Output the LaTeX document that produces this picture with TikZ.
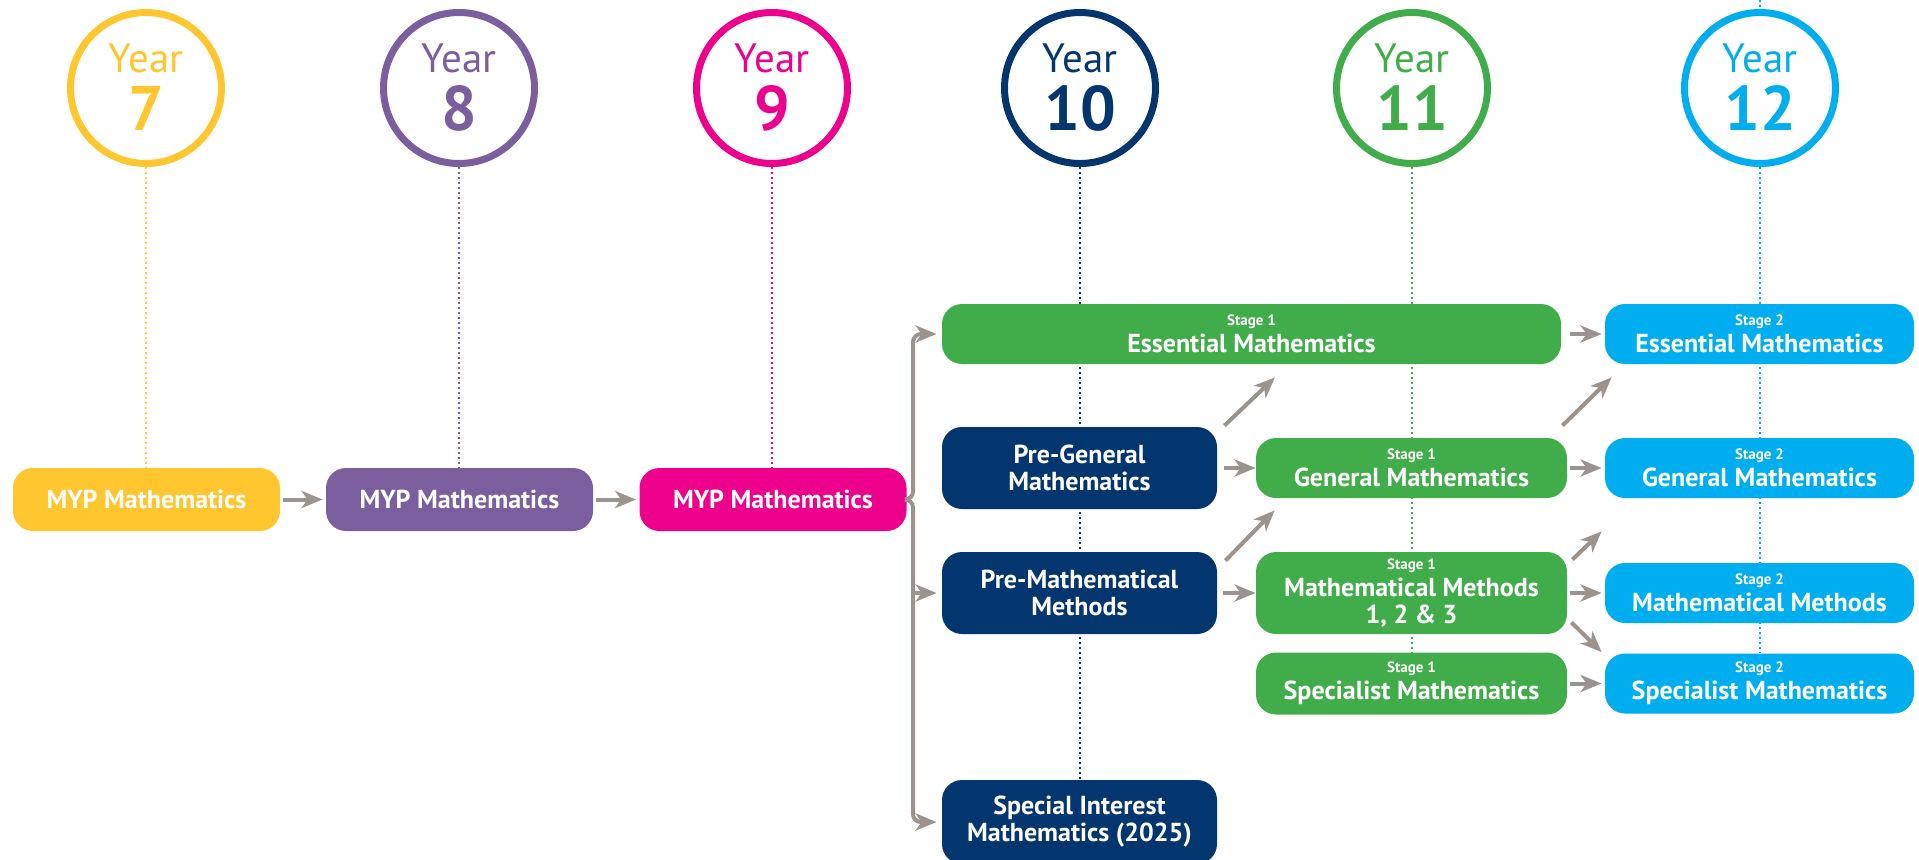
\documentclass[tikz,border=0pt]{standalone}
\usepackage{fontspec}
\setmainfont{PT Sans}
\usetikzlibrary{arrows.meta,backgrounds}

\definecolor{ysev}{HTML}{FFC630}
\definecolor{yeig}{HTML}{7B5E9E}
\definecolor{ynin}{HTML}{EC008C}
\definecolor{yten}{HTML}{03356F}
\definecolor{yele}{HTML}{41AD4A}
\definecolor{ytwe}{HTML}{00AEEF}
\definecolor{arrowgrey}{HTML}{9C938D}

\newcommand{\stg}[1]{{\fontsize{7.5}{8}\selectfont Stage~#1}}
\newcommand{\yearring}[4]{%
  \node[ring, draw=#3] (#1) at (#2,88) {};
  \node[yrword, text=#3] (#1w) at ([yshift=8pt]#1.center) {Year};
  \node[yrnum, text=#3] (#1n) at ([yshift=-21pt]#1.center) {#4};}

\tikzset{
  ring/.style={circle, line width=3.5pt, minimum size=75.5pt, inner sep=0pt},
  yrword/.style={anchor=base, inner sep=0pt, font=\fontsize{20.5}{22}\selectfont},
  yrnum/.style={anchor=base, inner sep=0pt, font=\bfseries\fontsize{31.5}{33}\selectfont},
  course/.style={rounded corners=10pt, inner sep=0pt, text=white, align=center,
    font=\bfseries\fontsize{13}{13.5}\selectfont},
  myp/.style={course, minimum width=133.5pt, minimum height=31.5pt},
  prep/.style={course, fill=yten, minimum width=137.5pt, minimum height=41pt},
  stone/.style={course, fill=yele, minimum width=155.5pt, minimum height=30pt},
  stwo/.style={course, fill=ytwe, minimum width=154.5pt, minimum height=30pt},
  guide/.style={line width=1.1pt, dash pattern=on 1.1pt off 1.4pt},
  link/.style={arrowgrey, line width=2pt, -{Stealth[length=10.5pt,width=8.5pt,inset=3pt]}},
}

\begin{document}
\begin{tikzpicture}[x=0.5pt,y=-0.5pt]
   \useasboundingbox (0,0) rectangle (1919,859);

   \yearring{y7}{146}{ysev}{7}
   \yearring{y8}{459}{yeig}{8}
   \yearring{y9}{772}{ynin}{9}
   \yearring{y10}{1080}{yten}{10}
   \yearring{y11}{1412}{yele}{11}
   \yearring{y12}{1760}{ytwe}{12}
   \coordinate (top12) at (1760,0);

   \node[myp, fill=ysev] (myp7) at (146.5,499.5) {MYP Mathematics};
   \node[myp, fill=yeig] (myp8) at (459.5,499.5) {MYP Mathematics};
   \node[myp, fill=ynin] (myp9) at (773,499.5) {MYP Mathematics};

   \node[stone, minimum width=309.5pt] (essA) at (1251.5,334) {\stg{1}\\Essential Mathematics};
   \node[prep] (pgen) at (1079.5,468) {Pre-General\\Mathematics};
   \node[prep] (pmm) at (1079.5,593) {Pre-Mathematical\\Methods};
   \node[prep, minimum height=42pt] (sim) at (1079.5,822) {Special Interest\\Mathematics (2025)};

   \node[stone] (genA) at (1411.5,468) {\stg{1}\\General Mathematics};
   \node[stone, minimum height=41pt] (mmA) at (1411.5,593) {\stg{1}\\Mathematical Methods\\1, 2 \& 3};
   \node[stone, minimum height=31pt] (specA) at (1411.5,683.5) {\stg{1}\\Specialist Mathematics};

   \node[stwo] (essB) at (1759.5,334) {\stg{2}\\Essential Mathematics};
   \node[stwo] (genB) at (1759.5,468) {\stg{2}\\General Mathematics};
   \node[stwo] (mmB) at (1759.5,593) {\stg{2}\\Mathematical Methods};
   \node[stwo] (specB) at (1759.5,683.5) {\stg{2}\\Specialist Mathematics};

   \begin{pgfonlayer}{background}
    \draw[guide, ysev] (y7.south) -- (y7.south |- myp7.north);
    \draw[guide, yeig] (y8.south) -- (y8.south |- myp8.north);
    \draw[guide, ynin] (y9.south) -- (y9.south |- myp9.north);
    \draw[guide, yten] (y10.south) -- (y10.south |- sim.north);
    \draw[guide, yele] (y11.south) -- (y11.south |- specA.north);
    \draw[guide, ytwe] (y12.south) -- (y12.south |- specB.north);
    \draw[guide, ytwe] (top12) -- (y12.north);
   \end{pgfonlayer}

   \draw[link, shorten <=1.5pt, shorten >=1.5pt] (myp7) -- (myp8);
   \draw[link, shorten <=1.5pt, shorten >=1.5pt] (myp8) -- (myp9);
   \coordinate (fork) at (913,499.5);
   \draw[link, rounded corners=4pt, shorten >=2.5pt] (myp9.east) -- (fork) |- (essA.west);
   \draw[link, rounded corners=4pt, shorten >=2.5pt] (myp9.east) -- (fork) |- (sim.west);
   \draw[link, shorten >=2.5pt] (fork |- pmm.west) -- (pmm.west);

   \draw[link, shorten <=3.5pt] (pgen) -- (genA);
   \draw[link, shorten <=3pt] (pmm) -- (mmA);
   \draw[link] ([shift={(7,-1)}]pgen.north east) -- ([shift={(23.5,13)}]essA.south);
   \draw[link] ([shift={(8,9)}]pmm.north east) -- ([shift={(19,12)}]genA.south west);

   \draw[link, shorten <=4.5pt, shorten >=1.5pt] (essA) -- (essB);
   \draw[link, shorten <=1.5pt, shorten >=1.5pt] (genA) -- (genB);
   \draw[link, shorten <=1.5pt, shorten >=1.5pt] (mmA) -- (mmB);
   \draw[link, shorten <=1.5pt, shorten >=1.5pt] (specA) -- (specB);
   \draw[link] ([shift={(-5,-12)}]genA.north east) -- ([shift={(7,13)}]essB.south west);
   \draw[link] ([shift={(5,8)}]mmA.north east) -- ([shift={(-3,33)}]genB.south west);
   \draw[link] ([shift={(4,-12)}]mmA.south east) -- ([shift={(-3,-1)}]specB.north west);
\end{tikzpicture}
\end{document}
